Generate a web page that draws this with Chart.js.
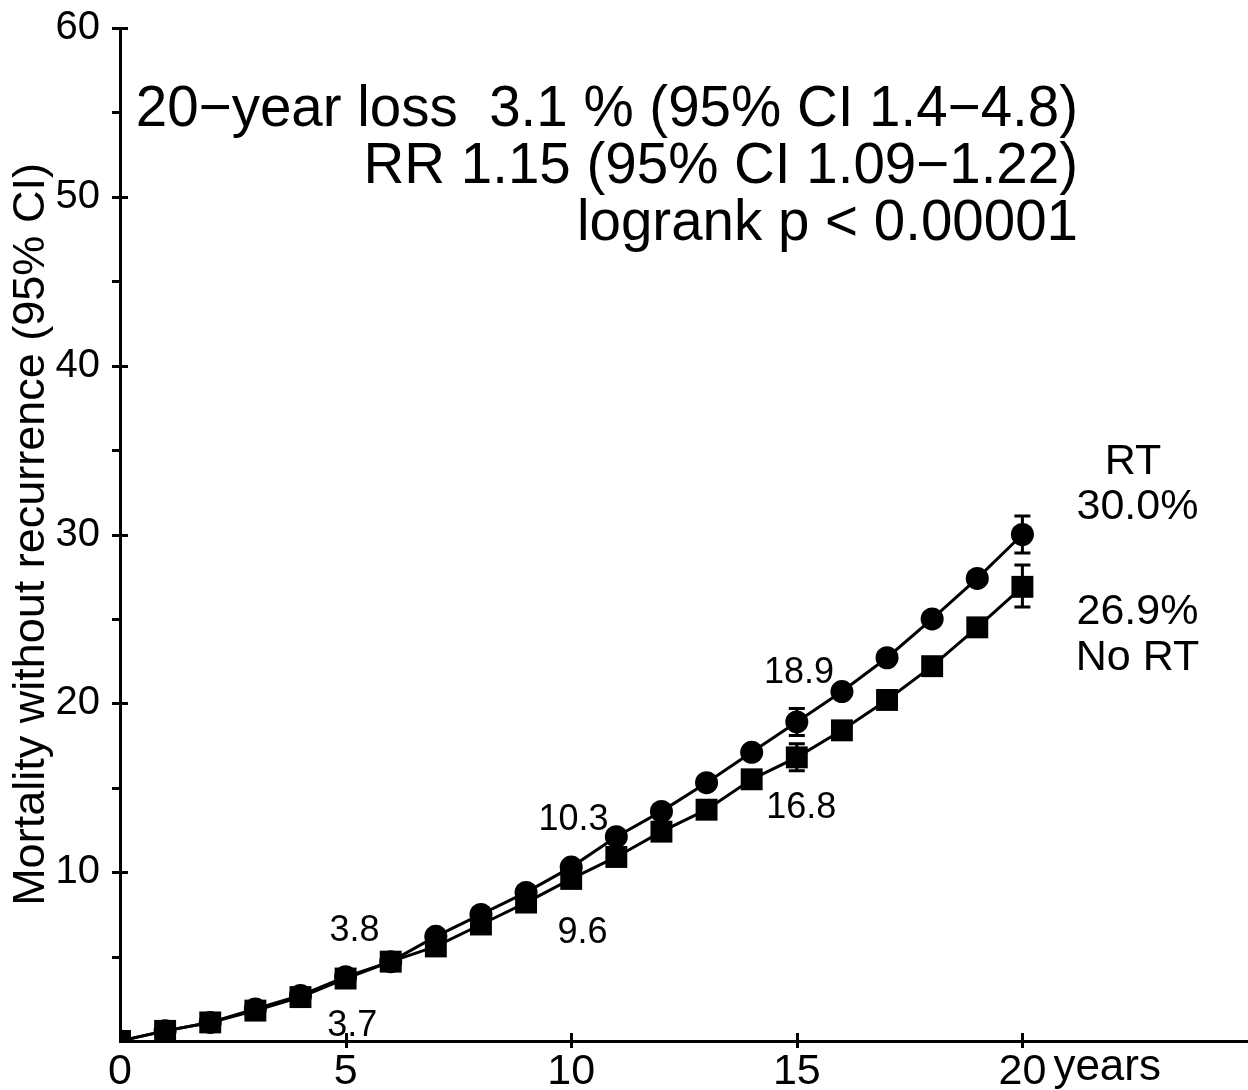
<!DOCTYPE html>
<html>
<head>
<meta charset="utf-8">
<script src="https://cdn.jsdelivr.net/npm/chart.js@4"></script>
<style>
  html, body { margin: 0; padding: 0; background: #fff; overflow: hidden; }
  #wrap { width: 1248px; height: 1090px; }
</style>
</head>
<body>
<div id="wrap"><canvas id="chart"></canvas></div>
<script>
// ---- data ----
const years = [0, 1, 2, 3, 4, 5, 6, 7, 8, 9, 10, 11, 12, 13, 14, 15, 16, 17, 18, 19, 20];
const rtValues   = [0, 0.6, 1.1, 1.9, 2.7, 3.8, 4.7, 6.2, 7.5, 8.8, 10.3, 12.1, 13.6, 15.3, 17.1, 18.9, 20.7, 22.7, 25.0, 27.4, 30.0];
const noRtValues = [0, 0.6, 1.1, 1.8, 2.6, 3.7, 4.7, 5.6, 6.9, 8.2, 9.6, 10.9, 12.4, 13.7, 15.5, 16.8, 18.4, 20.2, 22.2, 24.5, 26.9];

// confidence intervals at selected years
const ciYears  = [15, 20];
const rtLow    = [18.1, 28.9];
const rtHigh   = [19.7, 31.1];
const noRtLow  = [16.0, 25.7];
const noRtHigh = [17.6, 28.2];

const xTickLabels = [0, 5, 10, 15, 20];
const yTickLabels = [10, 20, 30, 40, 50, 60];

const headerLines = [
    "20\u2212year loss  3.1 % (95% CI 1.4\u22124.8)",
    "RR 1.15 (95% CI 1.09\u22121.22)",
    "logrank p < 0.00001"
];

// value labels: [text, x, y] in data units
const valueLabels = [
    ["3.8", 5.2, 6.5],
    ["3.7", 5.15, 0.9],
    ["9.6", 10.25, 6.4],
    ["10.3", 10.05, 13.1],
    ["18.9", 15.05, 21.8],
    ["16.8", 15.1, 13.8]
];
const endLabels = [
    ["RT", 22.45, 34.3],
    ["30.0%", 22.55, 31.6],
    ["26.9%", 22.55, 25.4],
    ["No RT", 22.55, 22.7]
];

const FONT = "'Liberation Sans', Arial, sans-serif";

function toPoints(vals) {
    return years.map((x, i) => ({ x: x, y: vals[i] }));
}

// ---- plugin: ticks, error bars, texts ----
const extras = {
    id: "extras",
    afterDraw(chart) {
        const ctx = chart.ctx;
        const xs = chart.scales.x;
        const ys = chart.scales.y;
        const x0 = xs.left;
        const y0 = ys.bottom;

        ctx.save();
        ctx.strokeStyle = "#000";
        ctx.lineWidth = 3;

        // y ticks every 5 (long ones on the labelled values)
        for (let v = 5; v <= 60; v += 5) {
            const py = Math.round(ys.getPixelForValue(v)) + 0.5;
            ctx.beginPath();
            ctx.moveTo(x0 - 8, py);
            ctx.lineTo(v % 10 === 0 ? x0 + 8 : x0, py);
            ctx.stroke();
        }
        // x ticks
        xTickLabels.forEach(v => {
            if (v === 0) return;
            const px = Math.round(xs.getPixelForValue(v)) + 0.5;
            ctx.beginPath();
            ctx.moveTo(px, y0 - 8);
            ctx.lineTo(px, y0 + 7);
            ctx.stroke();
        });

        // error bars
        function errBar(x, lo, hi) {
            const px = xs.getPixelForValue(x);
            const pl = ys.getPixelForValue(lo);
            const ph = ys.getPixelForValue(hi);
            ctx.beginPath();
            ctx.moveTo(px, pl); ctx.lineTo(px, ph);
            ctx.moveTo(px - 8, pl); ctx.lineTo(px + 8, pl);
            ctx.moveTo(px - 8, ph); ctx.lineTo(px + 8, ph);
            ctx.stroke();
        }
        ciYears.forEach((x, i) => {
            errBar(x, rtLow[i], rtHigh[i]);
            errBar(x, noRtLow[i], noRtHigh[i]);
        });

        ctx.fillStyle = "#000";
        ctx.textBaseline = "middle";

        // header text, right aligned
        ctx.font = "56.5px " + FONT;
        ctx.textAlign = "right";
        headerLines.forEach((t, i) => {
            ctx.fillText(t, 1078, 110 + i * 57);
        });

        // value labels
        ctx.font = "36px " + FONT;
        ctx.textAlign = "center";
        valueLabels.forEach(([t, x, y]) => {
            ctx.fillText(t, xs.getPixelForValue(x), ys.getPixelForValue(y));
        });
        ctx.font = "43px " + FONT;
        endLabels.forEach(([t, x, y]) => {
            ctx.fillText(t, xs.getPixelForValue(x), ys.getPixelForValue(y));
        });

        // "years" after the last tick label
        ctx.font = "44px " + FONT;
        ctx.textAlign = "left";
        ctx.fillText("years", xs.getPixelForValue(20) + 31, y0 + 27);

        ctx.restore();
    }
};

const chart = new Chart(document.getElementById("chart"), {
    type: "scatter",
    data: {
        datasets: [
            {
                label: "No RT",
                data: toPoints(noRtValues),
                showLine: true,
                borderColor: "#000",
                borderWidth: 3,
                backgroundColor: "#000",
                pointStyle: "rect",
                pointRadius: 15.5,
                pointBorderWidth: 0,
                order: 0
            },
            {
                label: "RT",
                data: toPoints(rtValues),
                showLine: true,
                borderColor: "#000",
                borderWidth: 3,
                backgroundColor: "#000",
                pointStyle: "circle",
                pointRadius: 11.5,
                pointBorderWidth: 0,
                order: 1
            }
        ]
    },
    options: {
        responsive: true,
        maintainAspectRatio: false,
        animation: false,
        layout: { autoPadding: false, padding: { top: 28, right: 0, left: 0, bottom: 0 } },
        plugins: {
            legend: { display: false },
            tooltip: { enabled: false }
        },
        scales: {
            x: {
                type: "linear",
                min: 0,
                max: 25,
                grid: { display: false },
                border: { display: true, color: "#000", width: 3 },
                afterBuildTicks: s => { s.ticks = xTickLabels.map(v => ({ value: v })); },
                afterFit: s => { s.height = 49; s.paddingLeft = 0; s.paddingRight = 0; },
                ticks: {
                    color: "#000",
                    padding: -3,
                    maxRotation: 0,
                    font: { family: FONT, size: 43 }
                }
            },
            y: {
                min: 0,
                max: 60,
                grid: { display: false },
                border: { display: true, color: "#000", width: 3 },
                afterBuildTicks: s => { s.ticks = yTickLabels.map(v => ({ value: v })); },
                afterFit: s => { s.width = 120; s.paddingTop = 0; s.paddingBottom = 0; },
                ticks: {
                    color: "#000",
                    padding: 12,
                    font: { family: FONT, size: 40 }
                },
                title: {
                    display: true,
                    text: "Mortality without recurrence (95% CI)",
                    color: "#000",
                    padding: { top: 5, bottom: 0 },
                    font: { family: FONT, size: 45 }
                }
            }
        }
    },
    plugins: [extras]
});
</script>
</body>
</html>
